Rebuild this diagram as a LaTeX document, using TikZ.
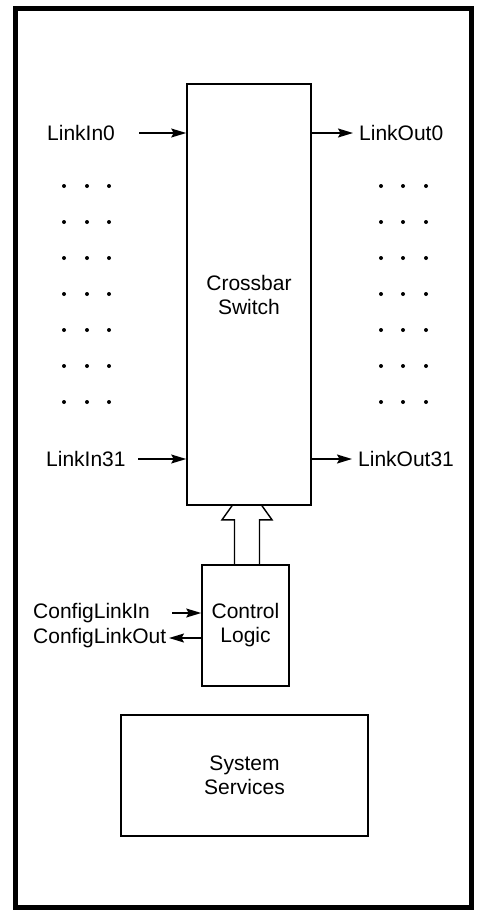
\documentclass[tikz,border=0pt]{standalone}
\usepackage{fontspec}
\setmainfont{Liberation Sans}
\usetikzlibrary{arrows.meta, positioning, calc}

\begin{document}
\begin{tikzpicture}[
    x=1pt, y=-1pt,
    blockbox/.style={
        rectangle,
        draw=black,
        line width=1.6pt,
        fill=white,
        align=center,
        inner sep=0pt,
        font=\fontsize{21}{24}\selectfont
    },
    linklabel/.style={
        inner sep=0pt,
        font=\fontsize{21}{24}\selectfont
    },
    sig/.style={
        line width=1.4pt,
        -{Stealth[length=15pt, width=9pt, inset=2.5pt]}
    },
    busline/.style={
        line width=1.4pt,
        line join=miter
    }
]
\useasboundingbox (0,0) rectangle (477,913);

% Outer frame
\draw[line width=5pt] (15,8) rectangle (471,907);

% Blocks
\node[blockbox, minimum width=124pt, minimum height=421pt] (xbar) at (249,294.5) {Crossbar\\Switch};
\node[blockbox, minimum width=87pt, minimum height=121pt] (ctrl) at (245.5,625.5) {Control\\Logic};
\node[blockbox, minimum width=247pt, minimum height=121pt] (sys) at (244.5,775.5) {System\\Services};

% Left column - link inputs
\node[linklabel, anchor=west] (in0) at (47,133) {LinkIn0};
\node[linklabel, anchor=west] (in31) at (46,459) {LinkIn31};
\coordinate (in0s) at (139,133);
\coordinate (in31s) at (138,459);
\draw[sig] (in0s) -- (in0s -| xbar.west);
\draw[sig] (in31s) -- (in31s -| xbar.west);

% Right column - link outputs
\node[linklabel, anchor=west] (out0) at (359,133) {LinkOut0};
\node[linklabel, anchor=west] (out31) at (358,459) {LinkOut31};
\coordinate (out0e) at (353,133);
\coordinate (out31e) at (352,459);
\draw[sig] (out0e -| xbar.east) -- (out0e);
\draw[sig] (out31e -| xbar.east) -- (out31e);

% Ellipsis rows
\foreach \row in {0,...,6} {
    \foreach \col in {64,87,109,381,403,426} {
        \fill (\col,186+36*\row) circle (2pt);
    }
}

% Config link
\node[linklabel, anchor=west] (cfgin) at (33,613) {ConfigLinkIn};
\node[linklabel, anchor=west] (cfgout) at (33,638) {ConfigLinkOut};
\coordinate (cfgins) at (172,613);
\coordinate (cfgoute) at (169,638);
\draw[sig] (cfgins) -- (cfgins -| ctrl.west);
\draw[sig] (cfgoute -| ctrl.west) -- (cfgoute);

% Hollow bus arrow from control logic to crossbar
\path (xbar.south) ++(-2,0) coordinate (busTop);
\path (ctrl.north) ++(1.5,0) coordinate (busBot);
\draw[busline]
    ($(busBot)+(-12.5,0)$) -- ($(busTop)+(-12.5,14)$) -- ($(busTop)+(-25,14)$) -- ($(busTop)+(-15,0)$)
    ($(busTop)+(15,0)$) -- ($(busTop)+(25,14)$) -- ($(busTop)+(12.5,14)$) -- ($(busBot)+(12.5,0)$);

\end{tikzpicture}
\end{document}
